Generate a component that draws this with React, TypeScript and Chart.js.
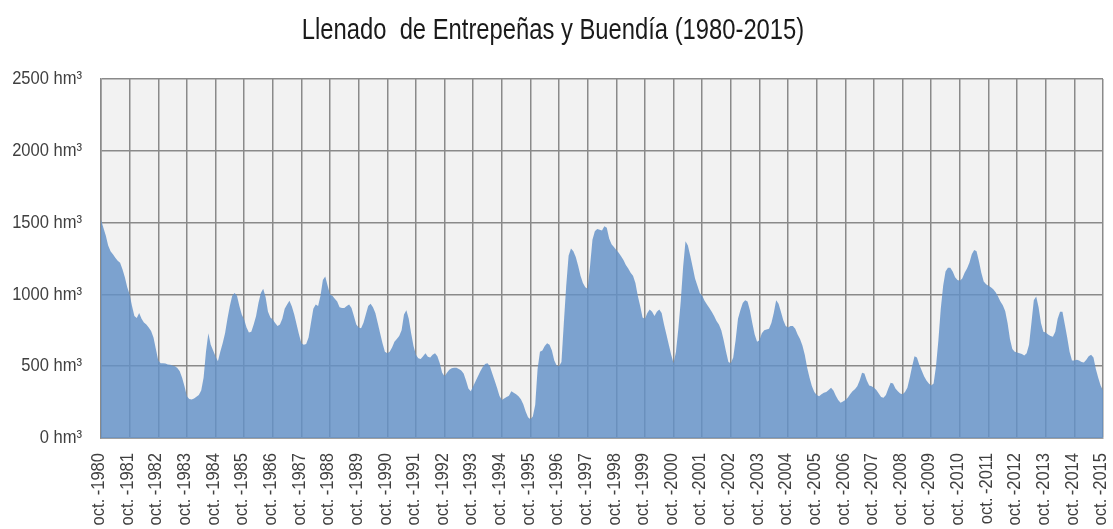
import { useEffect, useRef } from "react";
import { Chart, registerables } from "chart.js";

Chart.register(...registerables);

const TITLE = "Llenado  de Entrepeñas y Buendía (1980-2015)";
const MONTH_PREFIX = "oct.";
const START_YEAR = 1980;
const UNIT = " hm³";
const Y_MAX = 2500;
const Y_STEP = 500;

// Monthly volume (hm³), water years starting in October
const wy1980to1984 = [
  1520, 1465, 1410, 1340, 1300, 1280, 1255, 1235, 1220, 1175, 1120, 1050,
  1000, 920, 850, 835, 870, 830, 805, 790, 770, 745, 700, 620,
  540, 520, 520, 518, 512, 510, 505, 500, 488, 465, 420, 360,
  290, 272, 268, 275, 288, 300, 330, 420, 600, 730, 650, 610,
  570, 535, 600, 660, 730, 830, 920, 990, 1010, 990, 920, 860,
];
const wy1985to1989 = [
  826, 770, 735, 740, 790, 850, 940, 1010, 1040, 980, 880, 840,
  826, 800, 780, 790, 830, 900, 930, 955, 915, 860, 790, 720,
  660, 650, 655, 700, 800, 900, 930, 920, 990, 1100, 1125, 1060,
  1000, 990, 970, 950, 910, 905, 905, 920, 930, 905, 850, 790,
  770, 765, 800, 860, 920, 935, 910, 870, 800, 730, 660, 600,
];
const wy1990to1994 = [
  590, 600, 630, 670, 690, 710, 750, 860, 890, 830, 730, 640,
  580, 555, 550, 570, 590, 565, 560, 580, 590, 570, 520, 455,
  430, 455, 475, 485, 490, 490, 480, 470, 450, 400, 345, 325,
  360, 395, 430, 465, 495, 515, 520, 500, 450, 400, 350, 295,
  265, 275, 285, 295, 325, 315, 305, 290, 270, 235, 185, 145,
];
const wy1995to1999 = [
  130, 150, 230, 480, 600, 610, 640, 660, 650, 610, 540, 505,
  500, 530, 800, 1060, 1270, 1320, 1300, 1260, 1200, 1130, 1080, 1050,
  1040, 1200, 1380, 1440, 1455, 1450, 1445, 1475, 1465, 1390, 1350, 1330,
  1310, 1290, 1265, 1240, 1205, 1180, 1150, 1130, 1080, 990, 920, 840,
  830, 870, 895, 880, 850, 880, 895, 870, 790, 720, 650, 580,
];
const wy2000to2004 = [
  520, 600, 760, 950, 1190, 1370, 1340, 1270, 1190, 1110, 1060, 1010,
  990, 955, 930, 905, 880, 850, 815, 790, 750, 680, 600, 530,
  520, 560, 680, 830, 890, 940, 960, 950, 890, 800, 720, 670,
  680, 730, 750, 755, 760, 800, 870, 960, 935, 880, 820, 780,
  770, 780, 780, 760, 720, 690, 645, 580, 490, 420, 360, 320,
];
const wy2005to2009 = [
  300, 290, 305, 315, 320, 335, 350, 330, 295, 265, 245, 255,
  265, 280, 305, 325, 340, 360, 400, 455, 450, 400, 365, 360,
  350, 335, 310, 285, 280, 300, 345, 385, 380, 345, 325, 310,
  305, 320, 350, 420, 500, 570, 560, 510, 470, 430, 400, 380,
  365, 380, 500, 680, 900, 1060, 1160, 1185, 1185, 1160, 1120, 1100,
];
const wy2010to2014 = [
  1095, 1110, 1150, 1180, 1220, 1280, 1310, 1300, 1230, 1150, 1090, 1070,
  1060, 1050, 1035, 1015, 985, 950, 925, 885, 800, 690, 620, 600,
  595, 590, 585, 575, 590, 650, 800, 960, 985, 910, 800, 740,
  735, 720, 710, 705, 740, 830, 880, 880, 790, 700, 600, 540,
  540, 545, 540, 530, 525, 545, 570, 580, 560, 480, 420, 365,
];
const oct2015 = [330];

const FONT = "'Liberation Sans', Arial, sans-serif";

export default function App() {
  const ref = useRef<HTMLCanvasElement>(null);

  useEffect(() => {
    const values = [
      ...wy1980to1984,
      ...wy1985to1989,
      ...wy1990to1994,
      ...wy1995to1999,
      ...wy2000to2004,
      ...wy2005to2009,
      ...wy2010to2014,
      ...oct2015,
    ];
    const points = values.map((v, i) => ({ x: i, y: v }));
    const lastIndex = values.length - 1;

    const bgPlugin = {
      id: "plotBg",
      beforeDraw(chart: any) {
        const { ctx, chartArea } = chart;
        ctx.save();
        ctx.fillStyle = "#F2F2F2";
        ctx.fillRect(chartArea.left, chartArea.top, chartArea.right - chartArea.left, chartArea.bottom - chartArea.top);
        ctx.restore();
      },
    };

    // Narrow (condensed) text: Liberation Sans squeezed along the text direction
    const textPlugin = {
      id: "narrowText",
      afterDraw(chart: any) {
        const { ctx, chartArea, scales } = chart;
        const xs = scales.x;
        const ys = scales.y;
        ctx.save();
        // title
        ctx.save();
        ctx.fillStyle = "#1a1a1a";
        ctx.font = `29px ${FONT}`;
        ctx.textAlign = "center";
        ctx.textBaseline = "alphabetic";
        ctx.translate(553, 39);
        ctx.scale(0.82, 1);
        ctx.fillText(TITLE, 0, 0);
        ctx.restore();
        // y labels
        ctx.fillStyle = "#404040";
        ctx.font = `19px ${FONT}`;
        ys.ticks.forEach((t: any) => {
          const y = ys.getPixelForValue(t.value);
          ctx.save();
          ctx.translate(chartArea.left - 19, y);
          ctx.scale(0.87, 1);
          ctx.textAlign = "right";
          ctx.textBaseline = "middle";
          ctx.fillText(`${t.value}${UNIT}`, 0, 0);
          ctx.restore();
        });
        // x labels (rotated): "oct.-YYYY"
        xs.ticks.forEach((t: any) => {
          const x = xs.getPixelForValue(t.value);
          const yearPart = `-${START_YEAR + Math.round(t.value / 12)}`;
          ctx.save();
          ctx.translate(x - 2, chartArea.bottom + 15);
          ctx.rotate(-Math.PI / 2);
          ctx.scale(0.87, 1);
          ctx.textAlign = "right";
          ctx.textBaseline = "middle";
          ctx.fillText(yearPart, 0, 0);
          const w = ctx.measureText(yearPart).width;
          ctx.fillText(MONTH_PREFIX, -w - 4, 0);
          ctx.restore();
        });
        ctx.restore();
      },
    };

    const chart = new Chart(ref.current!, {
      type: "line",
      data: {
        datasets: [
          {
            data: points,
            fill: "origin",
            backgroundColor: "rgba(100,145,200,0.83)",
            borderWidth: 0,
            pointRadius: 0,
            tension: 0,
          },
        ],
      },
      options: {
        responsive: false,
        animation: false,
        devicePixelRatio: 1,
        layout: { padding: { top: 79, right: 10, left: 0, bottom: 0 } },
        plugins: { legend: { display: false }, tooltip: { enabled: false }, title: { display: false } },
        scales: {
          x: {
            type: "linear",
            min: 0,
            max: lastIndex,
            afterFit(scale: any) {
              scale.height = 91;
              scale.paddingLeft = 0;
              scale.paddingRight = 0;
            },
            grid: { color: "#8a8a8a", lineWidth: 1.5, drawTicks: false },
            border: { display: true, color: "#a0a0a0", width: 2 },
            ticks: { display: false, stepSize: 12, autoSkip: false },
          },
          y: {
            min: 0,
            max: Y_MAX,
            afterFit(scale: any) {
              scale.width = 101;
              scale.paddingTop = 0;
              scale.paddingBottom = 0;
            },
            grid: { color: "#8a8a8a", lineWidth: 1.5, drawTicks: false },
            border: { display: true, color: "#8a8a8a", width: 1.5 },
            ticks: { display: false, stepSize: Y_STEP },
          },
        },
      },
      plugins: [bgPlugin, textPlugin],
    });
    return () => chart.destroy();
  }, []);

  return (
    <div style={{ position: "fixed", left: 0, top: 0, width: 1113, height: 529, background: "#fff" }}>
      <canvas ref={ref} width={1113} height={529} style={{ width: 1113, height: 529, display: "block" }} />
    </div>
  );
}
